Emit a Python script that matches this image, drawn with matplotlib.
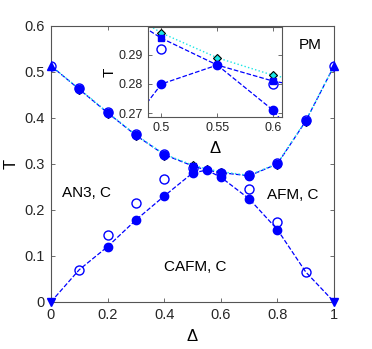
import matplotlib
matplotlib.use("Agg")
import matplotlib.pyplot as plt
import numpy as np

plt.rcParams['font.family'] = ['Liberation Sans', 'DejaVu Sans']

# upper (PM) transition line
x_up = [0, 0.1, 0.2, 0.3, 0.4, 0.5, 0.55, 0.6, 0.7, 0.8, 0.9, 1.0]
t_up_dash = [0.513, 0.462, 0.411, 0.362, 0.320, 0.2957, 0.2865, 0.281, 0.274, 0.300, 0.393, 0.513]
t_up_cyan = [0.513, 0.463, 0.412, 0.363, 0.321, 0.2975, 0.289, 0.283, 0.275, 0.301, 0.394, 0.513]

# lower transition lines
x_low_l = [0, 0.1, 0.2, 0.3, 0.4, 0.5, 0.55]
t_low_l = [0, 0.07, 0.12, 0.178, 0.230, 0.280, 0.2865]
x_low_r = [0.55, 0.6, 0.7, 0.8, 0.9, 1.0]
t_low_r = [0.2865, 0.271, 0.224, 0.157, 0.065, 0]

# markers
x_fill = [0.1, 0.2, 0.3, 0.4, 0.55, 0.7, 0.8, 0.9, 0.2, 0.3, 0.4, 0.5, 0.6, 0.7, 0.8]
t_fill = [0.462, 0.411, 0.362, 0.320, 0.2865, 0.273, 0.300, 0.393, 0.12, 0.178, 0.230, 0.280, 0.271, 0.224, 0.157]
x_open = [0, 0.1, 0.2, 0.3, 0.4, 0.5, 0.6, 0.7, 0.8, 0.9, 1.0, 0.1, 0.2, 0.3, 0.4, 0.7, 0.8, 0.9]
t_open = [0.513, 0.464, 0.413, 0.365, 0.321, 0.292, 0.280, 0.275, 0.301, 0.395, 0.513, 0.07, 0.145, 0.215, 0.268, 0.246, 0.173, 0.065]
x_sq = [0.5, 0.6]
t_sq = [0.2957, 0.281]
x_dia = [0.1, 0.2, 0.3, 0.4, 0.5, 0.55, 0.6, 0.7, 0.8, 0.9]
t_dia = [0.461, 0.409, 0.360, 0.318, 0.2975, 0.289, 0.283, 0.275, 0.298, 0.391]
x_tri_up = [0, 1.0]
t_tri_up = [0.513, 0.513]
x_tri_dn = [0, 1.0]
t_tri_dn = [0, 0]

labels = [("PM", 0.915, 0.559), ("AN3, C", 0.127, 0.237), ("AFM, C", 0.855, 0.233), ("CAFM, C", 0.509, 0.076)]

blue = (0, 0, 1)
cyan = (0.1, 0.9, 0.9)
grey = '#555555'

fig = plt.figure(figsize=(3.72, 3.49), dpi=100)


def draw(ax, labelsize, pad):
    ax.plot(x_up, t_up_dash, '--', color=blue, lw=0.9, zorder=2)
    ax.plot(x_up, t_up_cyan, ':', color=cyan, lw=1.0, zorder=2)
    ax.plot(x_low_l, t_low_l, '--', color=blue, lw=0.9, zorder=2)
    ax.plot(x_low_r, t_low_r, '--', color=blue, lw=0.9, zorder=2)
    ax.plot(x_dia, t_dia, 'D', color=cyan, mec='black', mew=0.8, ms=4.0, ls='none', zorder=3)
    ax.plot(x_sq, t_sq, 's', color=blue, ms=4.5, ls='none', zorder=3)
    ax.plot(x_open, t_open, 'o', mfc='none', mec=blue, mew=1.0, ms=6.5, ls='none', zorder=4)
    ax.plot(x_fill, t_fill, 'o', color=blue, ms=6.0, ls='none', zorder=4)
    ax.plot(x_tri_up, t_tri_up, '^', color=blue, ms=5.5, ls='none', zorder=4, clip_on=False)
    ax.plot(x_tri_dn, t_tri_dn, 'v', color=blue, ms=5.5, ls='none', zorder=5, clip_on=False)
    for s in ax.spines.values():
        s.set_color(grey)
        s.set_linewidth(0.8)
    ax.tick_params(direction='in', top=True, right=True, colors=grey, labelcolor='#262626',
                   labelsize=labelsize, length=3, width=0.6, pad=pad)


ax = fig.add_axes([0.137, 0.135, 0.761, 0.791])
draw(ax, 10.5, 4.5)
ax.set_xlim(0, 1)
ax.set_ylim(0, 0.6)
ax.set_xticks([0, 0.2, 0.4, 0.6, 0.8, 1.0])
ax.set_xticklabels(['0', '0.2', '0.4', '0.6', '0.8', '1'])
ax.set_yticks([0, 0.1, 0.2, 0.3, 0.4, 0.5, 0.6])
ax.set_yticklabels(['0', '0.1', '0.2', '0.3', '0.4', '0.5', '0.6'])
ax.set_xlabel('Δ', fontsize=12, labelpad=5)
ax.set_ylabel('T', fontsize=12, labelpad=4)
for txt, lx, ly in labels:
    ax.text(lx, ly, txt, ha='center', va='center', fontsize=11, color='black', zorder=6)

axi = fig.add_axes([0.398, 0.665, 0.360, 0.258])
axi.patch.set_facecolor('white')
draw(axi, 9, 4)
axi.set_xlim(0.488, 0.608)
axi.set_ylim(0.2687, 0.2996)
axi.set_xticks([0.5, 0.55, 0.6])
axi.set_xticklabels(['0.5', '0.55', '0.6'])
axi.set_yticks([0.27, 0.28, 0.29])
axi.set_yticklabels(['0.27', '0.28', '0.29'])
axi.set_xlabel('Δ', fontsize=12, labelpad=5)
axi.set_ylabel('T', fontsize=11, labelpad=1)

fig.savefig('out.png', dpi=100)
